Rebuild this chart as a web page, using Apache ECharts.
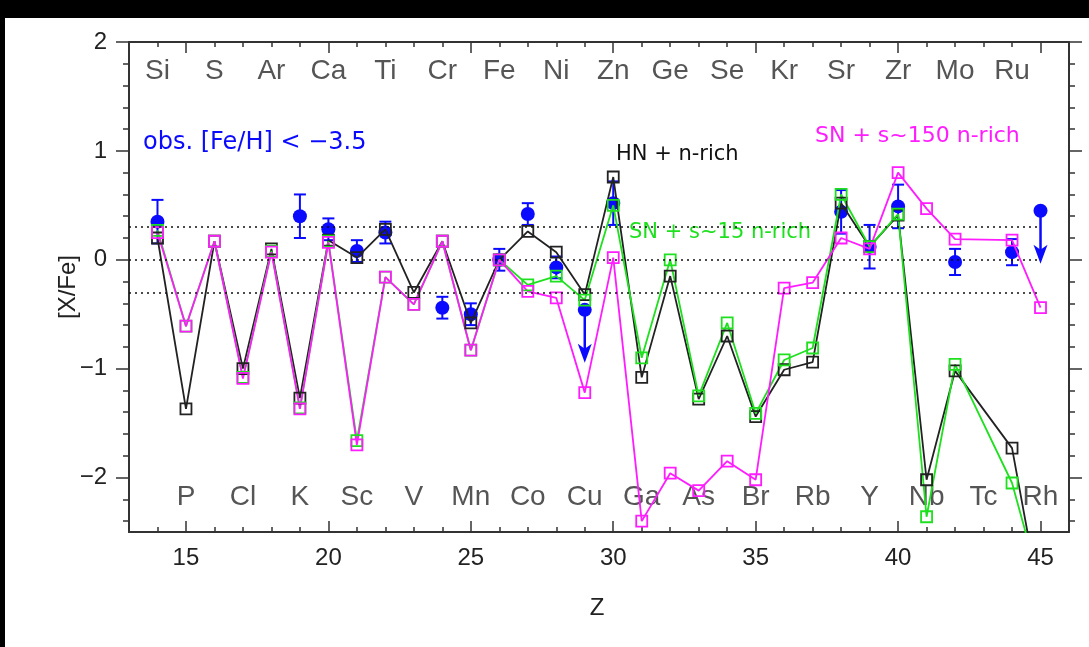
<!DOCTYPE html>
<html>
<head>
<meta charset="utf-8">
<script src="https://cdn.jsdelivr.net/npm/echarts@6/dist/echarts.min.js"></script>
<style>
  html, body { margin: 0; padding: 0; background: #fff; }
  #chart { width: 1089px; height: 647px; }
</style>
</head>
<body>
<div id="chart"></div>
<script>
// Element symbols along the Z axis
const elementZ = [14, 15, 16, 17, 18, 19, 20, 21, 22, 23, 24, 25, 26, 27, 28, 29, 30,
                  31, 32, 33, 34, 35, 36, 37, 38, 39, 40, 41, 42, 43, 44, 45];
const elementNames = ['Si', 'P', 'S', 'Cl', 'Ar', 'K', 'Ca', 'Sc', 'Ti', 'V', 'Cr', 'Mn', 'Fe', 'Co', 'Ni', 'Cu', 'Zn',
                      'Ga', 'Ge', 'As', 'Se', 'Br', 'Kr', 'Rb', 'Sr', 'Y', 'Zr', 'Nb', 'Mo', 'Tc', 'Ru', 'Rh'];

// Model yields (Tc has no entry)
const modelZ = [14, 15, 16, 17, 18, 19, 20, 21, 22, 23, 24, 25, 26, 27, 28, 29, 30,
                31, 32, 33, 34, 35, 36, 37, 38, 39, 40, 41, 42, 44, 45];
const hnNrich = [0.20, -1.37, 0.17, -1.00, 0.10, -1.27, 0.18, 0.02, 0.28, -0.30, 0.17, -0.58, 0.00, 0.26, 0.07, -0.32, 0.76,
                 -1.08, -0.15, -1.28, -0.70, -1.44, -1.01, -0.94, 0.52, 0.12, 0.41, -2.02, -1.02, -1.73, -3.15];
const sn15Nrich = [0.27, -0.61, 0.17, -1.08, 0.08, -1.36, 0.17, -1.66, -0.16, -0.41, 0.17, -0.83, 0.00, -0.23, -0.15, -0.37, 0.50,
                   -0.90, 0.00, -1.25, -0.58, -1.41, -0.92, -0.81, 0.60, 0.12, 0.42, -2.36, -0.96, -2.05, -3.00];
const sn150Nrich = [0.25, -0.61, 0.17, -1.09, 0.07, -1.37, 0.16, -1.70, -0.16, -0.41, 0.17, -0.83, 0.00, -0.29, -0.35, -1.22, 0.02,
                    -2.40, -1.96, -2.12, -1.85, -2.02, -0.26, -0.21, 0.20, 0.10, 0.80, 0.47, 0.19, 0.18, -0.44];

// Observed abundances, [Fe/H] < -3.5
const obsZ = [14, 19, 20, 21, 22, 24, 25, 26, 27, 28, 30, 38, 39, 40, 42, 44];
const obsVal = [0.35, 0.40, 0.28, 0.08, 0.25, -0.44, -0.50, 0.00, 0.42, -0.07, 0.52, 0.44, 0.12, 0.49, -0.02, 0.07];
const obsErr = [0.20, 0.20, 0.10, 0.10, 0.10, 0.10, 0.10, 0.10, 0.10, 0.10, 0.20, 0.20, 0.20, 0.20, 0.12, 0.12];
// Upper limits
const limitZ = [29, 45];
const limitVal = [-0.46, 0.45];

// Reference levels
const refLevels = [0.3, 0, -0.3];

// Tick positions
const xMajorTicks = [15, 20, 25, 30, 35, 40, 45];
const xMinorTicks = [14, 16, 17, 18, 19, 21, 22, 23, 24, 26, 27, 28, 29, 31, 32, 33, 34, 36, 37, 38, 39, 41, 42, 43, 44, 46];
const yMajorTicks = [-2, -1, 0, 1, 2];
const yMinorTicks = [-2.4, -2.2, -1.8, -1.6, -1.4, -1.2, -0.8, -0.6, -0.4, -0.2,
                     0.2, 0.4, 0.6, 0.8, 1.2, 1.4, 1.6, 1.8];

const BLUE = '#0a0aff';
const GREEN = '#1ee01e';
const MAGENTA = '#ff1cff';
const BLACK = '#222';
const AXIS = '#333';
const LABEL_FONT = "'Liberation Sans', Arial, sans-serif";
const NOTE_FONT = "'DejaVu Sans', sans-serif";

const pairs = (xs, ys) => xs.map((x, i) => [x, ys[i]]);

function xAxisDef(pos, ticks, len, withLine, withLabels) {
  return {
    type: 'value', position: pos, min: 13, max: 46,
    axisLine: { show: withLine, onZero: false, lineStyle: { color: AXIS, width: 2 } },
    axisTick: { show: true, inside: true, length: len, customValues: ticks, lineStyle: { color: AXIS, width: 1.5 } },
    axisLabel: withLabels ? {
      show: true, customValues: ticks, margin: 14, color: '#222',
      fontSize: 24, fontFamily: LABEL_FONT
    } : { show: false },
    splitLine: { show: false }
  };
}
function yAxisDef(pos, ticks, len, withLine, withLabels) {
  return {
    type: 'value', position: pos, min: -2.5, max: 2,
    axisLine: { show: withLine, onZero: false, lineStyle: { color: AXIS, width: 2 } },
    axisTick: { show: true, inside: false, length: len, customValues: ticks, lineStyle: { color: AXIS, width: 1.5 } },
    axisLabel: withLabels ? {
      show: true, customValues: ticks, margin: 22, color: '#222',
      fontSize: 24, fontFamily: LABEL_FONT,
      formatter: v => String(v).replace('-', '\u2212')
    } : { show: false },
    splitLine: { show: false }
  };
}

// Vertical error bar with short caps
function renderErrorBar(params, api) {
  const z = api.value(0), v = api.value(1), e = api.value(2);
  const top = api.coord([z, v + e]);
  const bot = api.coord([z, v - e]);
  const w = 6;
  const st = { stroke: BLUE, lineWidth: 2 };
  return {
    type: 'group',
    children: [
      { type: 'line', shape: { x1: top[0], y1: top[1], x2: bot[0], y2: bot[1] }, style: st },
      { type: 'line', shape: { x1: top[0] - w, y1: top[1], x2: top[0] + w, y2: top[1] }, style: st },
      { type: 'line', shape: { x1: bot[0] - w, y1: bot[1], x2: bot[0] + w, y2: bot[1] }, style: st }
    ]
  };
}

// Downward arrow marking an upper limit
function renderLimit(params, api) {
  const p = api.coord([api.value(0), api.value(1)]);
  return {
    type: 'group',
    children: [
      { type: 'line', shape: { x1: p[0], y1: p[1], x2: p[0], y2: p[1] + 40 }, style: { stroke: BLUE, lineWidth: 2.5 } },
      { type: 'polygon', shape: { points: [[p[0] - 7, p[1] + 34], [p[0], p[1] + 39], [p[0] + 7, p[1] + 34], [p[0], p[1] + 53]] },
        style: { fill: BLUE } }
    ]
  };
}

function modelSeries(name, values, color) {
  return {
    name, type: 'line', data: pairs(modelZ, values),
    xAxisIndex: 0, yAxisIndex: 0,
    symbol: 'rect', symbolSize: 11, showAllSymbol: true,
    lineStyle: { color, width: 1.8 },
    itemStyle: { color: 'rgba(255,255,255,0)', borderColor: color, borderWidth: 1.8 },
    clip: true, animation: false
  };
}

const chart = echarts.init(document.getElementById('chart'), null, { renderer: 'canvas' });

chart.setOption({
  animation: false,
  backgroundColor: '#fff',
  grid: { left: 129, right: 20, top: 42, bottom: 115, containLabel: false },
  xAxis: [
    xAxisDef('bottom', xMajorTicks, 11, true, true),
    xAxisDef('bottom', xMinorTicks, 5, false, false),
    xAxisDef('top', xMajorTicks, 11, true, false),
    xAxisDef('top', xMinorTicks, 5, false, false)
  ],
  yAxis: [
    yAxisDef('left', yMajorTicks, 13, true, true),
    yAxisDef('left', yMinorTicks, 6, false, false),
    yAxisDef('right', yMajorTicks, 13, true, false),
    yAxisDef('right', yMinorTicks, 6, false, false)
  ],
  graphic: [
    { type: 'rect', left: 0, top: 0, shape: { width: 1089, height: 18 }, style: { fill: '#000' }, silent: true },
    { type: 'rect', left: 0, top: 0, shape: { width: 5, height: 647 }, style: { fill: '#000' }, silent: true },
    { type: 'text', left: 143, top: 131, style: { text: 'obs. [Fe/H] < \u22123.5', fill: BLUE, font: '500 24px ' + NOTE_FONT } },
    { type: 'text', left: 616, top: 144, style: { text: 'HN + n-rich', fill: '#111', font: '21px ' + NOTE_FONT } },
    { type: 'text', left: 629, top: 222, style: { text: 'SN + s~15 n-rich', fill: GREEN, font: '21px ' + NOTE_FONT } },
    { type: 'text', left: 815, top: 125, style: { text: 'SN + s~150 n-rich', fill: MAGENTA, font: '22px ' + NOTE_FONT } },
    { type: 'text', x: 597, y: 608, style: { text: 'Z', fill: '#222', font: '24px ' + LABEL_FONT, align: 'center', verticalAlign: 'middle' } },
    { type: 'text', x: 68, y: 287, rotation: Math.PI / 2,
      style: { text: '[X/Fe]', fill: '#222', font: '24px ' + LABEL_FONT, align: 'center', verticalAlign: 'middle' } }
  ],
  series: [
    {
      name: 'elements', type: 'scatter', xAxisIndex: 0, yAxisIndex: 0,
      symbolSize: 0, silent: true,
      data: elementZ.map((z, i) => [z, z % 2 === 0 ? 1.73 : -2.18, elementNames[i]]),
      label: {
        show: true, position: 'inside', formatter: p => p.data[2],
        color: '#2a2a2a', fontSize: 28, fontFamily: LABEL_FONT
      }
    },
    {
      name: 'reference', type: 'line', data: [], xAxisIndex: 0, yAxisIndex: 0,
      markLine: {
        silent: true, symbol: ['none', 'none'], label: { show: false },
        lineStyle: { color: '#111', width: 1.6, type: [2, 4] },
        data: refLevels.map(v => [{ coord: [13, v] }, { coord: [45, v] }])
      }
    },
    modelSeries('HN + n-rich', hnNrich, BLACK),
    modelSeries('SN + s~15 n-rich', sn15Nrich, GREEN),
    modelSeries('SN + s~150 n-rich', sn150Nrich, MAGENTA),
    {
      name: 'errors', type: 'custom', xAxisIndex: 0, yAxisIndex: 0,
      renderItem: renderErrorBar,
      data: obsZ.map((z, i) => [z, obsVal[i], obsErr[i]])
    },
    {
      name: 'limits', type: 'custom', xAxisIndex: 0, yAxisIndex: 0,
      renderItem: renderLimit,
      data: pairs(limitZ, limitVal)
    },
    {
      name: 'obs', type: 'scatter', xAxisIndex: 0, yAxisIndex: 0,
      symbol: 'circle', symbolSize: 14,
      itemStyle: { color: BLUE, opacity: 1 },
      data: pairs(obsZ, obsVal).concat(pairs(limitZ, limitVal))
    }
  ]
});
</script>
</body>
</html>
